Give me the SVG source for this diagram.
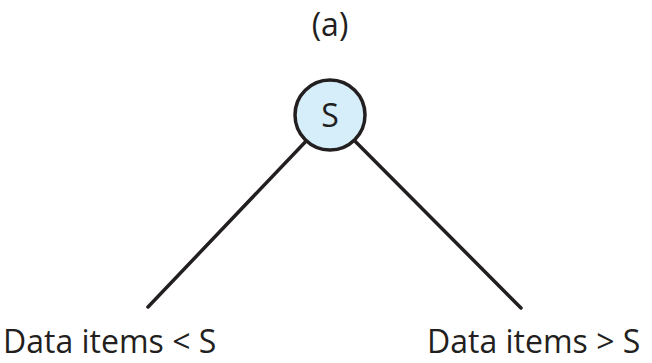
<svg xmlns="http://www.w3.org/2000/svg" width="652" height="363" viewBox="0 0 652 363">
<style>
text{font-family:"Open Sans","Noto Sans",sans-serif;font-size:32px;fill:#231f20}
.edge{stroke:#231f20;stroke-width:3.5;fill:none;stroke-linecap:round}
.node{fill:#d5eefa;stroke:#231f20;stroke-width:3.5}
</style>
<rect width="652" height="363" fill="#fff"/>
<text x="330" y="36" text-anchor="middle">(a)</text>
<g id="connectors">
<line class="edge" x1="330" y1="116" x2="148" y2="307"/>
<line class="edge" x1="330" y1="116" x2="521" y2="308"/>
</g>
<g id="node-S">
<circle class="node" cx="330" cy="115" r="35"/>
<text x="330" y="127" text-anchor="middle">S</text>
</g>
<g id="label-left">
<text x="3" y="353">Data items &lt; S</text>
</g>
<g id="label-right">
<text x="427" y="353">Data items &gt; S</text>
</g>
</svg>
